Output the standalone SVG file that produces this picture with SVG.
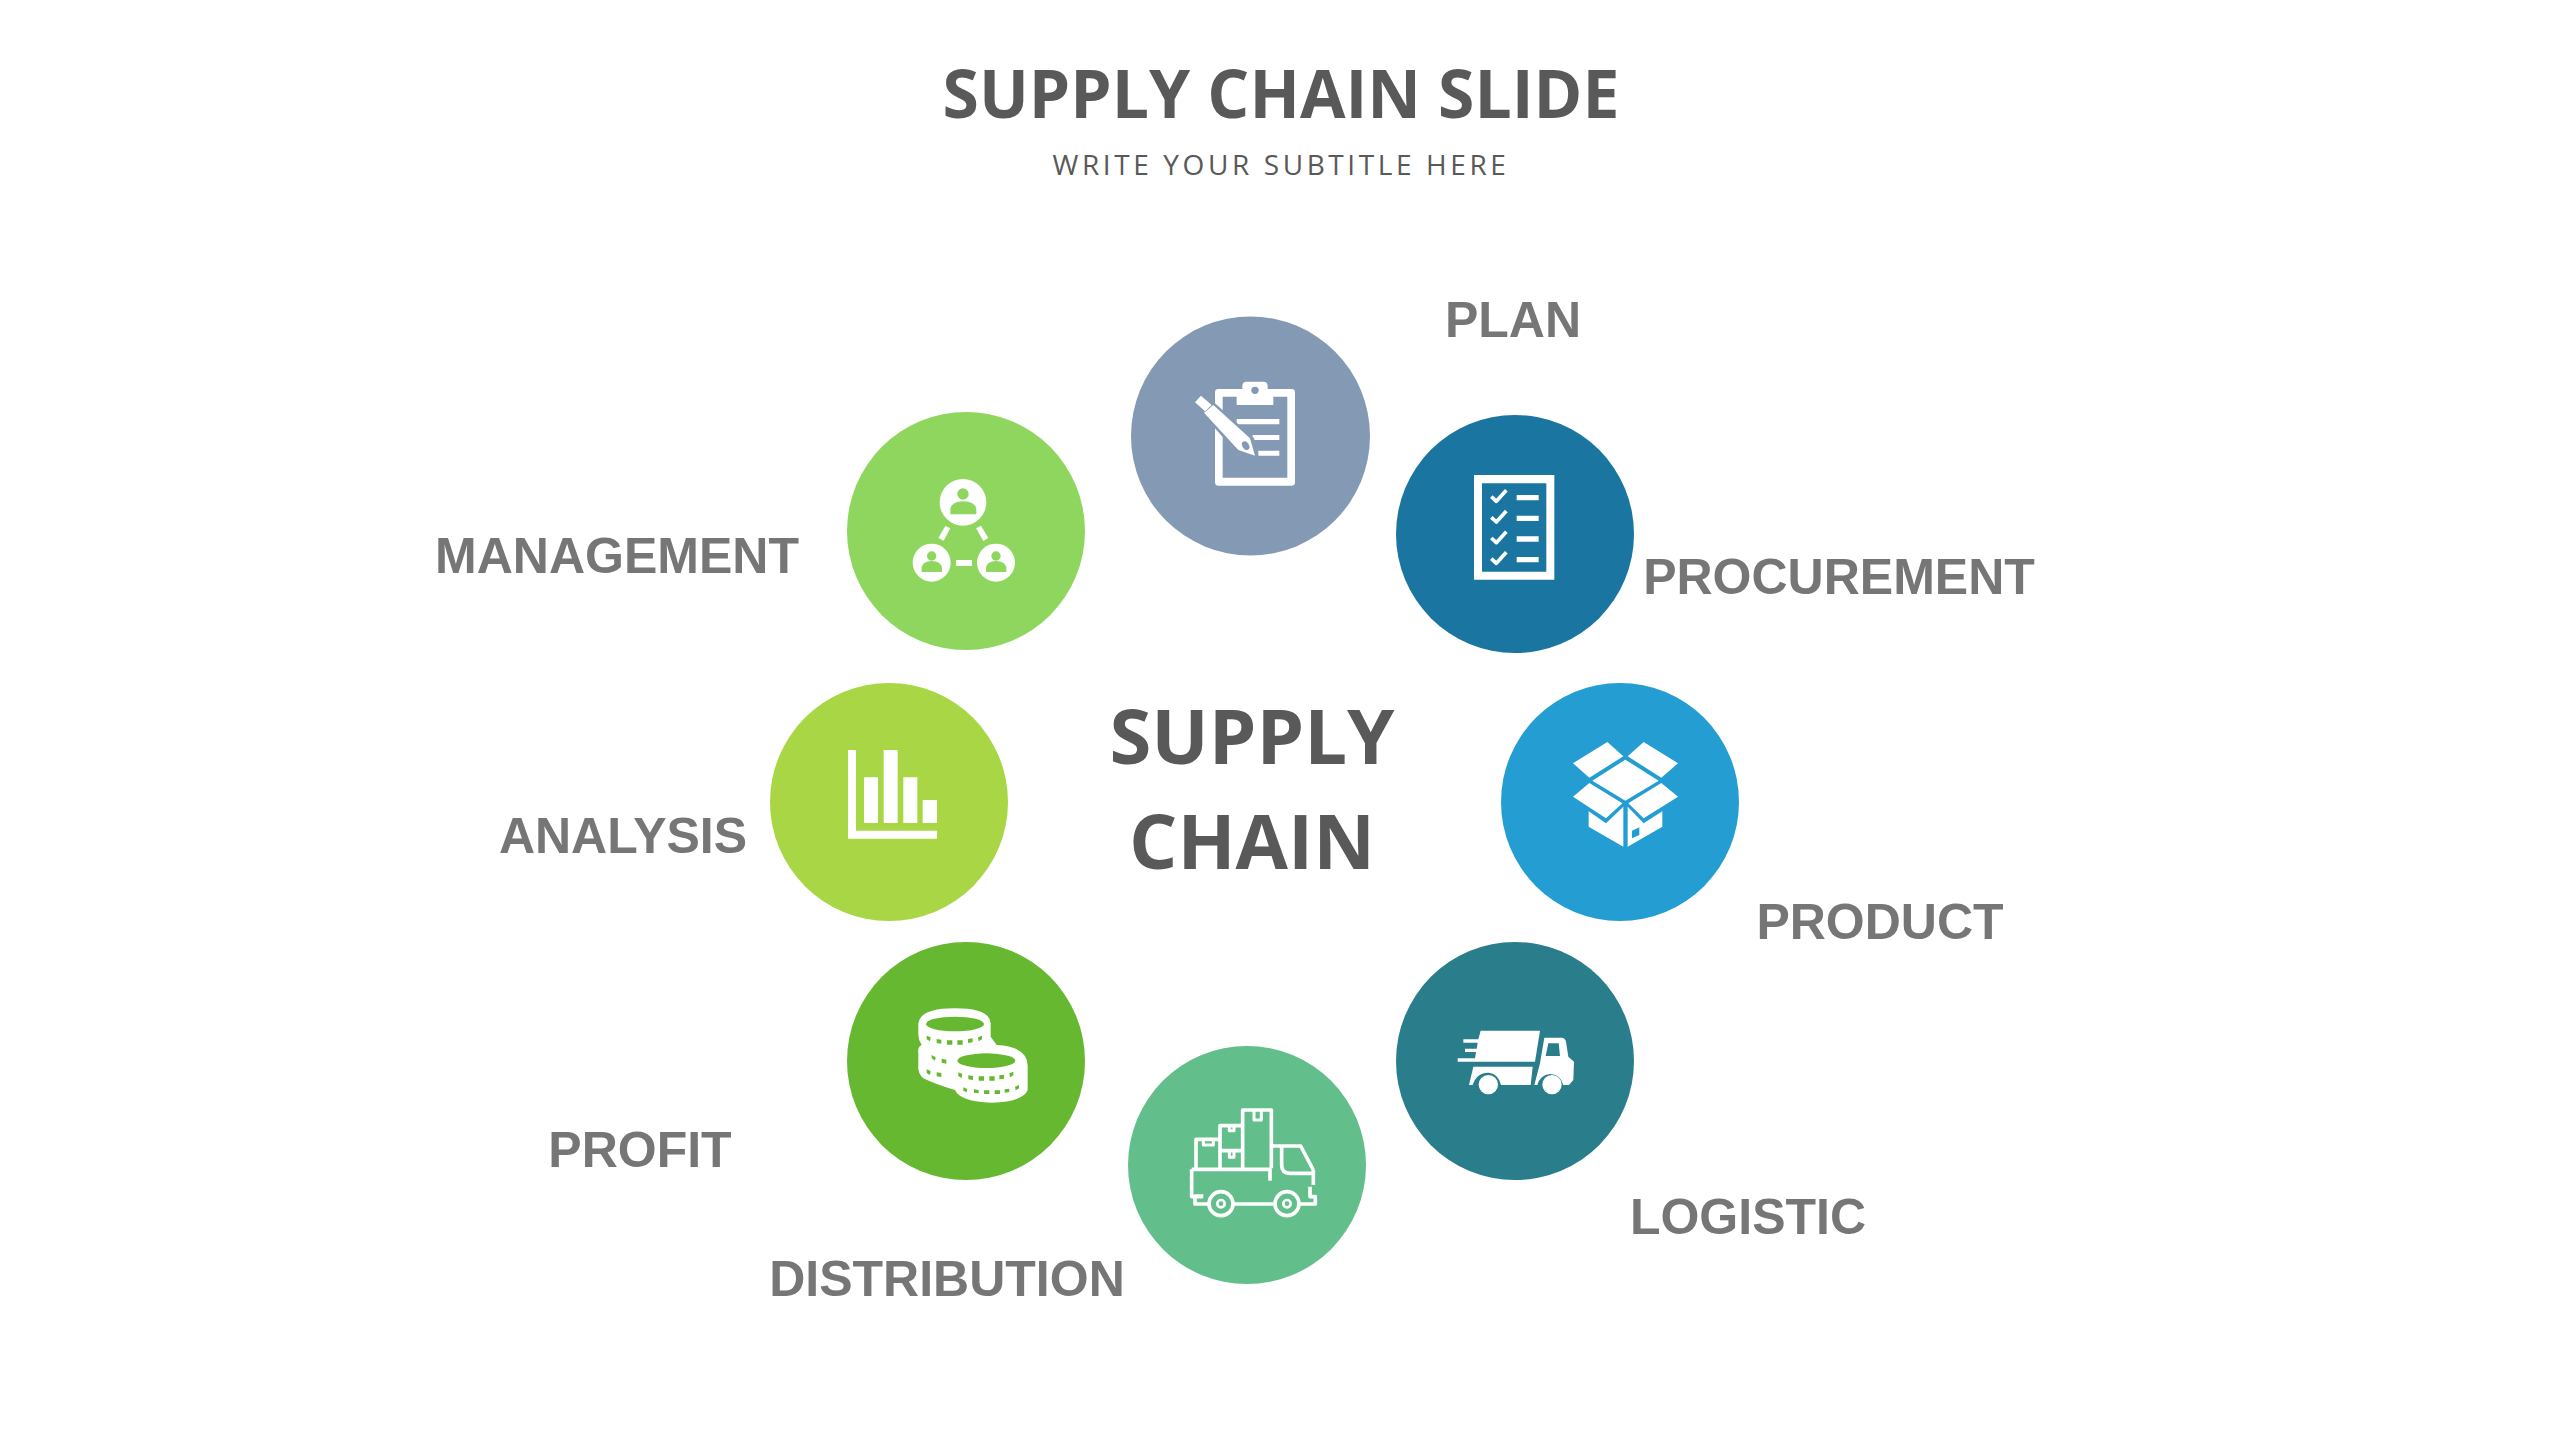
<svg xmlns="http://www.w3.org/2000/svg" width="2559" height="1440" viewBox="0 0 2559 1440">
<style>
.w{fill:#fff}
.t{font-family:"Open Sans","Noto Sans",sans-serif;font-weight:700;fill:#595959;text-anchor:middle}
.l{font-family:"Liberation Sans",Arial,sans-serif;font-weight:700;font-size:50px;fill:#767676;text-anchor:middle}
.o{fill:none;stroke:#fff;stroke-linejoin:round}
</style>
<rect width="2559" height="1440" fill="#fff"/>
<g id="title">
<text class="t" x="1281" y="118" font-size="66">SUPPLY CHAIN SLIDE</text>
<text x="1281" y="175" text-anchor="middle" font-family="'Open Sans','Noto Sans',sans-serif" font-size="28" letter-spacing="3.6" fill="#595959">WRITE YOUR SUBTITLE HERE</text>
</g>
<g id="center"><text class="t" x="1252" y="764" font-size="76">SUPPLY</text><text class="t" x="1252" y="869" font-size="76">CHAIN</text></g>
<g id="plan">
<circle cx="1250.5" cy="436" r="119.5" fill="#8499B3"/>
<g transform="translate(1130 310) scale(.33333)">
<path class="w" fill-rule="evenodd" d="M265 237H337V228Q337 215 350 215H400Q413 215 413 228V237H485Q495 237 495 247V517Q495 527 485 527H265Q255 527 255 517V247Q255 237 265 237ZM278 260V503H472V260H430V285H320V260Z"/>
<circle cx="375" cy="241" r="11" fill="#8499B3"/>
<path class="w" d="M320 327H448V343H320ZM368 375H448V390H368ZM385 422H448V437H385Z"/>
<path d="M215 308L250 275L372 385L388 450L320 430Z" fill="#8499B3"/>
<path class="w" d="M195 277L213 257L245 285L225 304ZM222 308L250 285L360 385L375 437L325 420Z"/>
<ellipse cx="347" cy="407" rx="10" ry="14" transform="rotate(-30 347 407)" fill="#8499B3"/>
</g></g>
<g id="procurement">
<circle cx="1515" cy="534" r="119" fill="#1A76A0"/>
<g transform="translate(1130 310) scale(.33333)">
<path class="w" fill-rule="evenodd" d="M1032 495H1273V809H1032ZM1056 520V785H1249V520Z"/>
<path class="w" d="M1160 555h66v16h-66zM1160 617h66v16h-66zM1160 679h66v16h-66zM1160 741h66v16h-66z"/>
<path class="o" stroke-width="11" d="M1084 560l15 14 30-33M1084 622l15 14 30-33M1084 684l15 14 30-33M1084 746l15 14 30-33"/>
</g></g>
<g id="product">
<circle cx="1620" cy="802" r="119" fill="#249ED2"/>
<g transform="translate(1500 700) scale(.33333)">
<path class="w" d="M322 126L370 169L268 233L219 190ZM431 126L534 190L484 233L383 169ZM376 179L476 242L376 302L277 242ZM268 249L367 310L318 355L219 290ZM484 249L534 290L431 355L385 310ZM266 334L318 370L370 320V440L266 380ZM383 320L431 370L487 334V380L383 440Z"/>
<path d="M396 392L418 382V405L396 415Z" fill="#249ED2"/>
</g></g>
<g id="logistic">
<circle cx="1515" cy="1061" r="119" fill="#2A7D8B"/>
<g transform="translate(1420 1000) scale(.33333)">
<path class="w" d="M182 92H360L345 185H113V175H165L168 156H135V146H170L173 128H130V118H175Z"/>
<path class="w" d="M160 200H338L332 255H243Q235 220 205 218Q170 218 158 255H147Z"/>
<path class="w" fill-rule="evenodd" d="M373 113H425Q435 113 438 125L445 170L462 185L460 240L447 255H430Q420 222 390 222Q360 225 352 255H343L360 190ZM385 130L377 168H420L416 130Z"/>
<circle cx="205" cy="254" r="29" class="w"/><circle cx="396" cy="254" r="29" class="w"/>
</g></g>
<g id="distribution">
<circle cx="1247" cy="1165" r="119" fill="#62BE8A"/>
<g transform="translate(1170 1090) scale(.33333)">
<path class="o" stroke-width="11" d="M218 235V60H304V235M150 235V107H218M150 182H218M78 235V148H150M304 168H392L430 240M335 172V225Q335 250 360 250H430M65 238H300V272M65 238V320H98M430 240V285M420 290V320H436V342H390M310 342H190M115 342H75V318H100"/>
<path class="o" stroke-width="9" d="M252 62V90H274V62M178 110V122H192V110M178 186V202H192V186M100 150V165H130V150"/>
<circle cx="153" cy="341" r="36" class="o" stroke-width="11"/><circle cx="153" cy="341" r="11" class="o" stroke-width="8"/>
<circle cx="351" cy="341" r="36" class="o" stroke-width="11"/><circle cx="351" cy="341" r="11" class="o" stroke-width="8"/>
</g></g>
<g id="profit">
<circle cx="966" cy="1061" r="119" fill="#65B830"/>
<g transform="translate(900 990) scale(.33333)">
<path class="w" d="M55 100Q60 55 165 55Q270 55 272 100V140L290 165Q385 170 383 230V300Q370 335 275 338Q180 335 165 300Q110 285 70 265Q52 250 55 225V190Q52 170 65 165Q55 150 55 135Z"/>
<g fill="#65B830"><ellipse cx="165" cy="102" rx="87" ry="22"/><ellipse cx="259" cy="212" rx="87" ry="22"/>
<path d="M80 137l12 5-2 12-10-6zM110 147l14 2v12l-14-2zM141 151h16v13h-16zM172 151h16v13h-16zM204 147l14-2v12l-14 2zM234 142l12-5v11l-10 6zM95 195l12 7-2 10-10-7zM125 206l14 3v12l-14-3zM80 238l12 5-2 12-10-6zM110 247l14 2v12l-14-2zM175 247l12 5-2 12-10-6zM205 256l14 2v12l-14-2zM236 259h16v13h-16zM268 259h16v13h-16zM298 256l14-2v12l-14 2zM328 250l12-5v11l-10 6zM190 292l12 5-2 10-10-5zM222 298l14 2v10l-14-2zM252 301h16v11h-16zM284 301h16v11h-16zM314 298l14-2v10l-14 2zM345 290l12-5v10l-10 6z"/></g>
</g></g>
<g id="analysis">
<circle cx="889" cy="802" r="119" fill="#A8D645"/>
<g transform="translate(840 410) scale(.33333)">
<path class="w" d="M24 1020H48V1262H291V1286H24ZM72 1102H114V1239H72ZM131 1020H173V1239H131ZM190 1102H232V1239H190ZM248 1170H291V1239H248Z"/>
</g></g>
<g id="management">
<circle cx="966" cy="531" r="119" fill="#8ED65E"/>
<g transform="translate(840 410) scale(.33333)">
<circle cx="369" cy="277" r="70" class="w"/><circle cx="275" cy="458" r="57" class="w"/><circle cx="468" cy="458" r="57" class="w"/>
<g fill="#8ED65E"><circle cx="369" cy="252" r="17"/><path d="M331 313V297Q335 275 369 274Q405 275 409 297V313Z"/>
<circle cx="275" cy="438" r="14"/><path d="M245 486V472Q248 454 275 453Q302 454 306 472V486Z"/>
<circle cx="468" cy="438" r="14"/><path d="M438 486V472Q441 454 468 453Q495 454 499 472V486Z"/></g>
<path class="w" d="M316 348L331 355L311 392L295 384ZM408 355L423 347L445 384L430 393ZM348 450H396V468H348Z"/>
</g></g>
<g id="labels">
<text class="l" x="1513" y="337">PLAN</text>
<text class="l" x="1839" y="594">PROCUREMENT</text>
<text class="l" x="1880" y="939">PRODUCT</text>
<text class="l" x="1748" y="1234">LOGISTIC</text>
<text class="l" x="947" y="1296">DISTRIBUTION</text>
<text class="l" x="640" y="1167">PROFIT</text>
<text class="l" x="623" y="853">ANALYSIS</text>
<text class="l" x="617" y="573">MANAGEMENT</text>
</g>
</svg>
